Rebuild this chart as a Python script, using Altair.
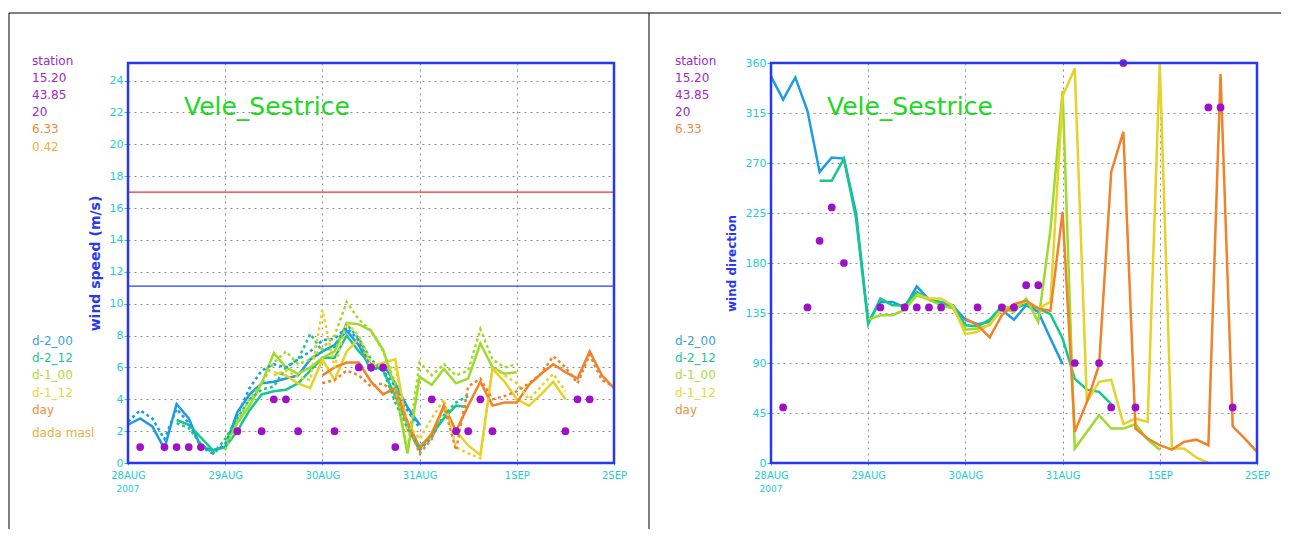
import altair as alt
import pandas as pd

# ---------------- data ----------------
DAY_LABELS = ["28AUG", "29AUG", "30AUG", "31AUG", "1SEP", "2SEP"]
DAY_HOURS = [0, 24, 48, 72, 96, 120]
YEAR_LABEL = "2007"
STATION_NAME = "Vele_Sestrice"

SERIES = ["d-2_00", "d-2_12", "d-1_00", "d-1_12", "day"]
START_HOUR = [0, 12, 24, 36, 48]
STEP_HOURS = 3

# wind speed (m/s), thick solid lines
SPD_SOLID_D2_00 = [2.4, 2.8, 2.3, 0.9, 3.7, 2.8, 1.0, 0.8, 1.0, 3.2, 4.3, 5.0, 5.1, 5.3, 5.5, 6.5, 7.0, 7.4, 8.3, 7.4, 5.8, 6.2, 5.0, 3.5, 2.4]
SPD_SOLID_D2_12 = [2.7, 2.4, 1.6, 0.8, 1.0, 2.0, 3.3, 4.3, 4.5, 4.6, 5.0, 5.8, 6.6, 6.6, 8.0, 7.0, 6.2, 5.8, 4.2, 2.5, 1.0, 1.8, 2.8, 3.6, 3.5]
SPD_SOLID_D1_00 = [1.2, 2.5, 3.6, 5.0, 6.9, 6.0, 5.6, 6.0, 6.6, 7.0, 8.8, 8.7, 8.3, 7.1, 4.7, 0.6, 5.4, 4.9, 5.9, 5.0, 5.3, 7.5, 6.0, 5.6, 5.7]
SPD_SOLID_D1_12 = [5.7, 5.5, 5.0, 4.7, 6.5, 5.2, 7.0, 7.8, 6.0, 6.3, 6.5, 2.1, 0.9, 1.9, 3.5, 2.0, 1.1, 0.5, 5.9, 5.1, 4.0, 3.6, 4.3, 5.1, 4.0]
SPD_SOLID_DAY = [5.5, 6.0, 6.3, 6.3, 5.1, 4.3, 4.7, 2.6, 0.9, 1.8, 3.6, 2.0, 3.6, 5.1, 3.6, 3.8, 3.8, 4.9, 5.6, 6.2, 5.7, 5.3, 7.0, 5.5, 4.7]

# wind speed (m/s), dotted lines
SPD_DOT_D2_00 = [2.6, 3.3, 2.8, 1.5, 3.4, 2.5, 1.0, 0.6, 1.2, 3.0, 4.7, 5.8, 6.2, 6.0, 6.5, 7.0, 7.7, 7.8, 8.5, 7.7, 6.0, 5.8, 4.8, 3.3, 2.2]
SPD_DOT_D2_12 = [2.5, 2.2, 1.2, 0.6, 1.5, 2.8, 4.0, 4.6, 4.8, 6.0, 6.5, 8.1, 7.0, 7.3, 8.7, 7.8, 6.5, 5.8, 3.8, 2.2, 0.8, 1.6, 3.0, 3.8, 4.2]
SPD_DOT_D1_00 = [0.8, 2.6, 4.0, 5.0, 6.3, 7.0, 6.2, 6.5, 7.2, 8.0, 10.1, 9.0, 8.3, 7.0, 5.0, 0.8, 6.3, 5.5, 6.2, 5.5, 5.8, 8.4, 6.5, 6.0, 6.2]
SPD_DOT_D1_12 = [5.5, 5.8, 5.4, 5.2, 9.6, 6.0, 8.8, 8.0, 6.3, 6.0, 6.0, 2.5, 1.5, 2.8, 4.0, 1.0, 0.6, 0.3, 6.0, 5.5, 5.0, 4.0, 4.8, 5.6, 4.5]
SPD_DOT_DAY = [5.0, 5.2, 5.8, 5.5, 4.8, 5.0, 4.3, 2.5, 0.6, 1.5, 3.6, 0.8, 4.8, 5.3, 4.0, 4.2, 4.5, 5.0, 5.6, 6.7, 6.0, 5.0, 6.8, 5.2, 4.8]

# wind direction (deg)
DIR_D2_00 = [348, 327, 347, 317, 262, 275, 274, 225, 127, 145, 145, 140, 159, 147, 143, 141, 129, 125, 127, 138, 129, 142, 136, 112, 89]
DIR_D2_12 = [254, 254, 274, 220, 125, 148, 142, 142, 154, 147, 145, 142, 124, 123, 129, 141, 139, 143, 139, 134, 112, 76, 66, 64, 53]
DIR_D1_00 = [129, 133, 133, 138, 151, 147, 142, 139, 120, 121, 124, 139, 136, 148, 127, 210, 335, 13, 28, 43, 31, 31, 35, 21, 12]
DIR_D1_12 = [152, 148, 148, 141, 116, 118, 125, 138, 142, 146, 139, 145, 330, 355, 55, 73, 75, 35, 40, 37, 360, 13, 13, 5, 0]
DIR_DAY = [130, 124, 113, 133, 143, 146, 139, 137, 226, 28, 55, 88, 262, 298, 31, 22, 16, 12, 19, 21, 16, 350, 33, 22, 10]

# station observations
STATION_HOURS = [3, 9, 12, 15, 18, 27, 33, 36, 39, 42, 51, 57, 60, 63, 66, 75, 81, 84, 87, 90, 108, 111, 114]
STATION_SPEED = [1, 1, 1, 1, 1, 2, 2, 4, 4, 2, 2, 6, 6, 6, 1, 4, 2, 2, 4, 2, 2, 4, 4]
STATION_DIR = [50, 140, 200, 230, 180, 140, 140, 140, 140, 140, 140, 140, 140, 160, 160, 90, 90, 50, 360, 50, 320, 320, 50]

THRESH_VALUES = [17.0, 11.1]

LEGEND_TOP_LEFT = ["station", "15.20", "43.85", "20", "6.33", "0.42"]
LEGEND_TOP_RIGHT = ["station", "15.20", "43.85", "20", "6.33"]
LEGEND_BOTTOM_LEFT = ["d-2_00", "d-2_12", "d-1_00", "d-1_12", "day", "dada masl"]
LEGEND_BOTTOM_RIGHT = ["d-2_00", "d-2_12", "d-1_00", "d-1_12", "day"]

# ---------------- styles ----------------
LINE_COLORS = ["#1E9BE6", "#14C88C", "#9CDC28", "#E6D228", "#F0822A"]
TOP_COLORS = ["#A028C8", "#A028C8", "#A028C8", "#A028C8", "#F08A40", "#F0B040"]
BOTTOM_COLORS = ["#3AA0E0", "#20C890", "#A8E040", "#E8D840", "#F09040", "#E8B040"]
THRESH_COLORS = ["#F03030", "#2040F0"]
PURPLE = "#A010C8"
CYAN = "#1ECDD2"
FRAME_BLUE = "#2838F0"
GRID = "#8C8C8C"
TITLE_GREEN = "#20D820"
FONT = "DejaVu Sans"
W, H = 486, 400


def long_frame(values_list):
    rows = []
    for name, start, vals in zip(SERIES, START_HOUR, values_list):
        for k, v in enumerate(vals):
            rows.append({"series": name, "hour": start + STEP_HOURS * k, "value": v})
    return pd.DataFrame(rows)


speed_solid = long_frame([SPD_SOLID_D2_00, SPD_SOLID_D2_12, SPD_SOLID_D1_00, SPD_SOLID_D1_12, SPD_SOLID_DAY])
speed_dot = long_frame([SPD_DOT_D2_00, SPD_DOT_D2_12, SPD_DOT_D1_00, SPD_DOT_D1_12, SPD_DOT_DAY])
direction = long_frame([DIR_D2_00, DIR_D2_12, DIR_D1_00, DIR_D1_12, DIR_DAY])
station_speed = pd.DataFrame({"hour": STATION_HOURS, "value": STATION_SPEED})
station_dir = pd.DataFrame({"hour": STATION_HOURS, "value": STATION_DIR})

label_expr = "[" + ",".join("'%s'" % s for s in DAY_LABELS) + "][round(datum.value/24)]"


def x_enc():
    return alt.X(
        "hour:Q",
        scale=alt.Scale(domain=[0, 120], nice=False, zero=False),
        axis=alt.Axis(values=DAY_HOURS, labelExpr=label_expr, title=None, grid=True,
                      gridDash=[2, 4], gridColor=GRID, gridWidth=1, domain=False,
                      tickColor=CYAN, tickSize=2, labelColor=CYAN, labelFontSize=10,
                      labelFont=FONT, labelFlush=False, labelOverlap=False, labelPadding=5),
    )


def y_enc(top, step, title, tsize):
    vals = list(range(0, int(top) + 1, step))
    return alt.Y(
        "value:Q",
        scale=alt.Scale(domain=[0, top], nice=False, zero=True),
        axis=alt.Axis(values=vals, title=title, titleColor=FRAME_BLUE, titleFontWeight="bold",
                      titleFontSize=tsize, titleFont=FONT, titlePadding=7, grid=True,
                      gridDash=[2, 4], gridColor=GRID, gridWidth=1, domain=False,
                      tickColor=CYAN, tickSize=4, labelColor=CYAN, labelFontSize=11,
                      labelFont=FONT, labelPadding=1, labelOverlap=False),
    )


def legend_layer(labels, colors, y0, step, extra=None):
    ys = [y0 + step * i for i in range(len(labels))]
    if extra is not None:
        ys[-1] = extra
    df = pd.DataFrame({"label": labels, "col": colors[:len(labels)], "py": ys})
    return alt.Chart(df).mark_text(align="left", baseline="middle", font=FONT, fontSize=12).encode(
        x=alt.value(-96), y=alt.Y("py:Q", scale=None),
        text="label:N", color=alt.Color("col:N", scale=None))


def panel(solid_df, dot_df, station_df, top, step, ytitle, tsize, top_labels, bottom_labels,
          extra_layers):
    color = alt.Color("series:N", scale=alt.Scale(domain=SERIES, range=LINE_COLORS), legend=None)
    yy = y_enc(top, step, ytitle, tsize)
    layers = []
    for ex in extra_layers:
        layers.append(ex)
    layers.append(alt.Chart(solid_df).mark_line(strokeWidth=2.5).encode(
        x=x_enc(), y=yy, color=color, detail="series:N"))
    if dot_df is not None:
        layers.append(alt.Chart(dot_df).mark_line(strokeWidth=2.5, strokeDash=[3, 3]).encode(
            x=x_enc(), y=yy, color=color, detail="series:N"))
    layers.append(alt.Chart(station_df).mark_circle(size=60, color=PURPLE, opacity=1).encode(
        x=x_enc(), y=yy))
    layers.append(alt.Chart(pd.DataFrame({"t": [STATION_NAME]})).mark_text(
        align="left", baseline="alphabetic", font=FONT, fontSize=25, color=TITLE_GREEN).encode(
        x=alt.value(56), y=alt.value(52), text="t:N"))
    layers.append(alt.Chart(pd.DataFrame({"t": [YEAR_LABEL], "hour": [0]})).mark_text(
        align="center", baseline="middle", font=FONT, fontSize=9, color=CYAN).encode(
        x=x_enc(), y=alt.value(H + 26), text="t:N"))
    layers.append(legend_layer(top_labels, TOP_COLORS, -2, 17.1))
    extra = 370 if len(bottom_labels) == 6 else None
    layers.append(legend_layer(bottom_labels, BOTTOM_COLORS, 278, 17.2, extra))
    # plot frame on top
    layers.append(alt.Chart(pd.DataFrame({"a": [0]})).mark_rect(
        fill=None, stroke=FRAME_BLUE, strokeWidth=2.5).encode(
        x=alt.value(0), x2=alt.value(W), y=alt.value(0), y2=alt.value(H)))
    return alt.layer(*layers).resolve_scale(color="independent").properties(width=W, height=H)


dummy = pd.DataFrame({"a": [0]})
frame_layers = [
    alt.Chart(dummy).mark_rule(color="black", strokeWidth=1).encode(
        x=alt.value(-119), x2=alt.value(1153), y=alt.value(-50)),
    alt.Chart(dummy).mark_rule(color="black", strokeWidth=1).encode(
        x=alt.value(-119), y=alt.value(-50), y2=alt.value(466)),
    alt.Chart(dummy).mark_rule(color="black", strokeWidth=1).encode(
        x=alt.value(521), y=alt.value(-50), y2=alt.value(466)),
]
thresh_df = pd.DataFrame({"value": THRESH_VALUES, "col": THRESH_COLORS})
thresh_layer = alt.Chart(thresh_df).mark_rule(strokeWidth=1.2).encode(
    y=y_enc(25.1, 2, "wind speed (m/s)", 14),
    color=alt.Color("col:N", scale=None))

left = panel(speed_solid, speed_dot, station_speed, 25.1, 2, "wind speed (m/s)", 14,
             LEGEND_TOP_LEFT, LEGEND_BOTTOM_LEFT, frame_layers + [thresh_layer])
right = panel(direction, None, station_dir, 360, 45, "wind direction", 12,
              LEGEND_TOP_RIGHT, LEGEND_BOTTOM_RIGHT, [])

chart = alt.hconcat(left, right, spacing=157, bounds="flush").properties(
    padding={"left": 0, "top": 4, "right": 0, "bottom": 0}
).configure_view(stroke=None).configure(background="white")

chart.save("out.html", embed_options={"renderer": "svg", "actions": False})
